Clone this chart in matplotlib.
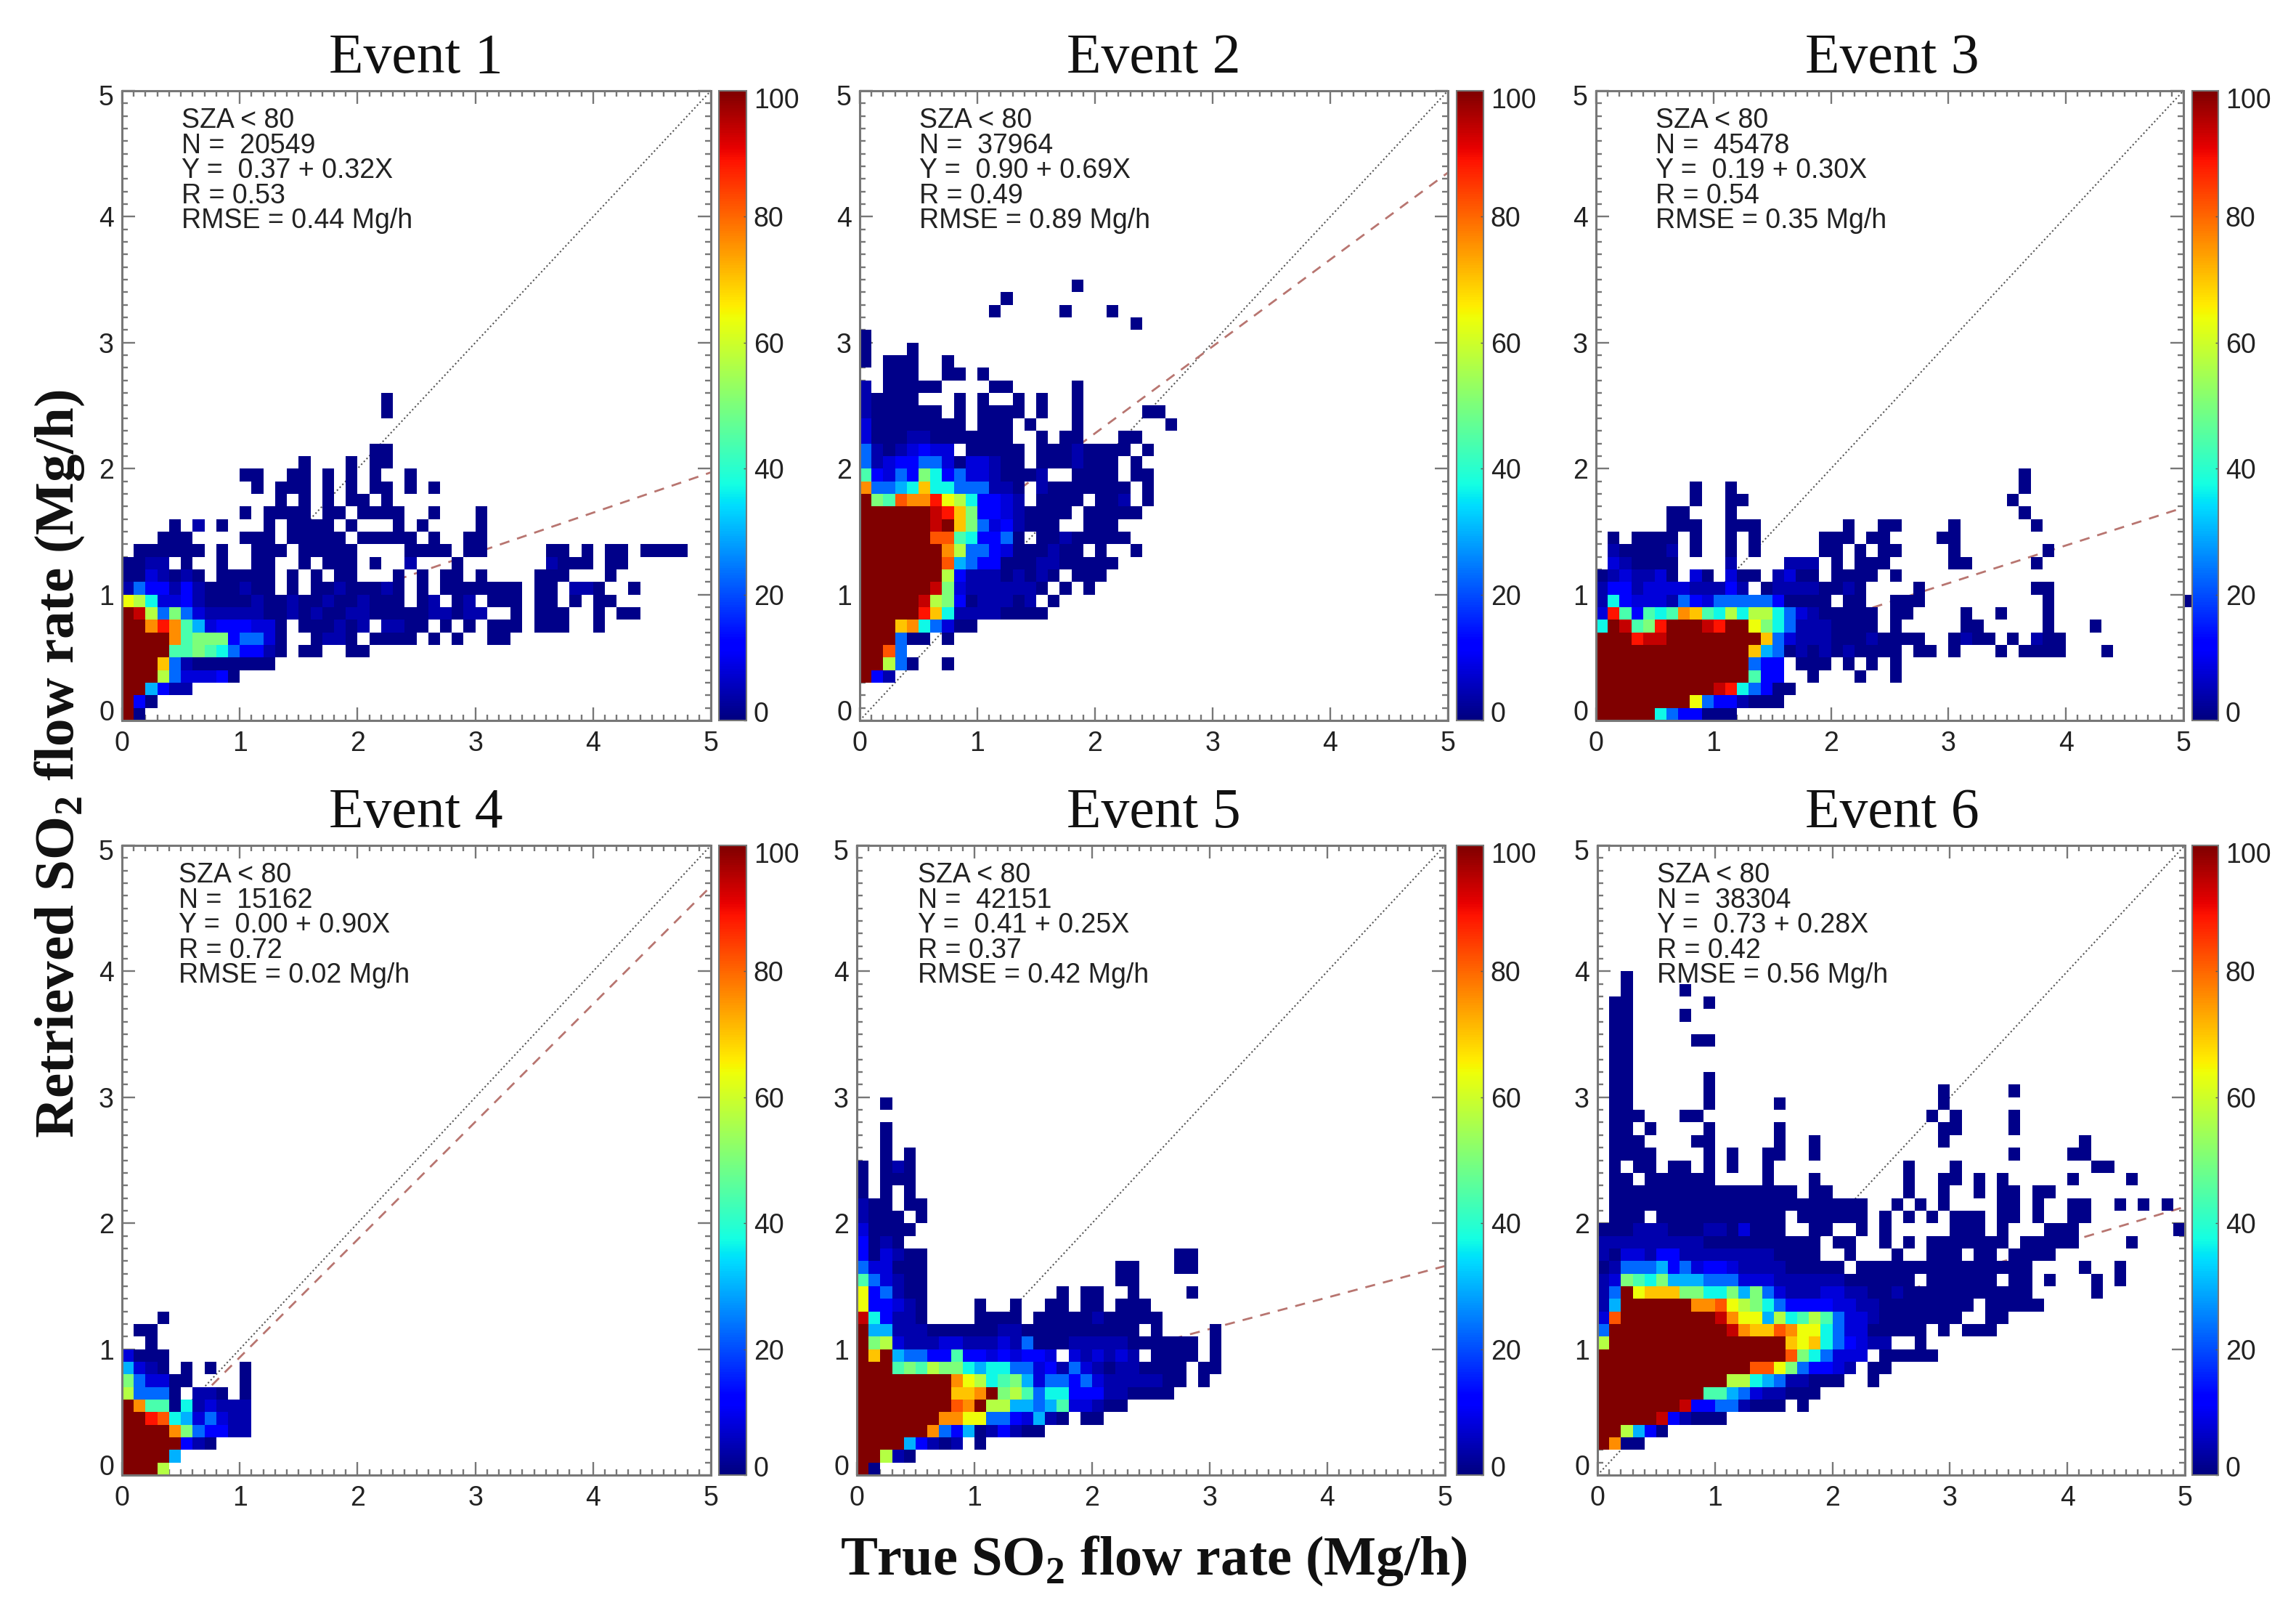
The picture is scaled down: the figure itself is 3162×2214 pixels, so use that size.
import numpy as np
import matplotlib
matplotlib.use("Agg")
import matplotlib.pyplot as plt
from matplotlib.transforms import Affine2D

plt.rcParams['font.family'] = ['Liberation Sans', 'DejaVu Sans']
plt.rcParams['mathtext.fontset'] = 'custom'
plt.rcParams['mathtext.bf'] = 'Liberation Serif:bold'

levels = {'a': 1, 'b': 4, 'c': 8, 'd': 12, 'e': 23, 'f': 30, 'g': 37, 'h': 44, 'i': 50,
          'j': 57, 'k': 64, 'l': 70, 'm': 76, 'n': 82, 'o': 89, 'p': 94, 'X': 100}

# histogram rows, bottom row first, cells are 0.1 Mg/h wide, '.' = empty
event1 = [
    "Xa", "Xda", "XXfdbb", "XXXjecccda", "XXXlebaaaaaaa", "XXXXhhihgeddba.aa..aa",
    "XXXXmhiiideeca..abba.aaaa.a.a..aa",
    "XXmomhfcdddcca.aaabab.bbaa.a.a.aaa.aaa..a",
    "Xpjeiecbbbbbaababaabbaaaaabbabb..a.aaa..a.aa",
    "kjgccdbaaaabaabaabaabaaa.ab.ab.aaa.aa.a.aa",
    "beddbdbaaabaa.a.aabaaaba.a.aaaaaaa.aa.bba..a",
    "aacbaba.aaaaa.a.a.aa...a.a.aa.a....aaa...a",
    "aabb.a..a..aa..a.aaa.a..b...a.......baaa.aa",
    ".aaaaaa.a..aaa.aaaaa....aaaa.aa.....aa.a.aa.aaaa",
    "...aaa....aaa.aaaaa.aaaaa.a..aa",
    "....a.b.a...a.aaaa.a...a.a....a",
    "..........a.aaaa.aa.aaaa..a...a",
    ".............a.a.a.aa.a",
    "...........a.aaa.a.a.aa.a.a",
    "..........aa..aa.a.a.a..a",
    "...............a...a.aa",
    ".....................aa",
    "", "",
    "......................a",
    "......................a",
]
event2 = [
    "", "", "", "Xdb", "XXjea..a", "XXne", "XXXeaa.a", "XXXlmgecaa", "XXXXXolgbbbbaaaa",
    "XXXXXpjidabbbab.a",
    "XXXXXXpicbbbbbba.a.a",
    "XXXXXXXjdbbbababa.aaa",
    "XXXXXXXnfeddaaabbaaaaa",
    "XXXXXXXmjeedcaaabaa.a..a",
    "XXXXXXnnhgddea.aabaaaaa",
    "XXXXXXpXliecdbaaa..aaa",
    "XXXXXXpoliddcbaaaa.aaaaa",
    "Xihnmmokjgddcb.aaaa.aab.a",
    "meefglggeeebba.baaaaaaa.a",
    "hdcedigdeccbaaab..aaaa.aa",
    "ebcddeecaccbaa.aaabaaa.a",
    "ebabcdcc.aaaaa.aaabaaaa.a",
    "caaabbaaaaaaa..a.aa...aa",
    "caaaaaaaa.aaa.a...a.......a",
    "baaaaaa.a.aaaa.a..a.....aa",
    "baaaa...a.a..a.a..a",
    "b.aaaaa....aa.....a",
    "..aaa..aa.a",
    "a.aaa..a",
    "a...a",
    "a",
    ".......................a",
    "...........a.....a...a",
    "............a",
    "..................a",
]
event3 = [
    "XXXXXgeddaaa",
    "XXXXXXXXkeddbaaa",
    "XXXXXXXXXXpogedaa",
    "XXXXXXXXXXXXXhdd..a...a..a",
    "XXXXXXXXXXXXXedd.aaa.a.a.a",
    "XXXXXXXXXXXXXlfeabababaaaa.aa.a...a.aaaa...a",
    "XXXoppXXXXXXXXlecbbbaaabaaaa..abaa.a.baa",
    "gXphioXXXpoXXkigebbbaaaa.a.....aa.....a...a",
    "cohdhghmlhgjgjjgecbaaaaa.aa....a..a...a",
    "bgdcccbedceeeeedaaaa.aa..aaa..........a...........a",
    "bddbccccbbbdb.abbbbaaba....a.........aa",
    "abcbbca.ca.caa.bcaa.aaaa.a",
    ".cbaaaa....b....bbb.a.aaa.....aa.....a",
    ".baaaab.a..a.a.....aa.a.aa....a.......a",
    ".a.aaaa.a..a.a.....aaa.aa....aa",
    "......aaa..aaa.......a..aa....a......a",
    "......aa...a........................a",
    "........a..aa......................a",
    "........a..a........................a",
    "....................................a",
]
event4 = [
    "XXXj", "XXXXf", "XXXXXdba", "XXXXmieddbb", "XXongfcecbb", "Xmhhagbcbbb",
    "jeeea.bba.a", "ieccaa....a", "fcba.a.a..a", "caaa", "..a", ".aa", "...a",
]
event5 = [
    "Xa", "XXjba", "XXXXfdbab.a", "XXXXXXmedfabdbaa", "XXXXXXXmmkkeedcfba.aa",
    "XXXXXXXXnmXjjffefhccbaa",
    "XXXXXXXXllmXijheggdddbbaaaa",
    "XXXXXXXXmkjghifceedecbbbbbaa.a",
    "XXXhihjiigfggeecdbecbabbaaaa.aa",
    "XlXfeeddhddcdcddc.cbcbcb.aaaa.a",
    "Xijcbbbccbbbcbeaaabbbbbaaaaaa.a",
    "Xffbbbaaaaaabbaaaaaaaaaa.a....a",
    "pgdbba....aaaa.aaaaabaaaaa",
    "kddcba....a..a..aa.aa.aaa",
    "kdebaa...........a.aa..a....a",
    "hecbaa................aa",
    "eccaaa................aa...aa",
    "dacbaa.....................aa",
    "daba", "caaaa", "baaa.a", "baa.aa", "a.a.a", "a.aaa", "a.aba",
    "..a.a", "..a", "..a", "", "..a",
]
event6 = [
    "", "", "Xmaa", "XXjfda", "XXXXXpdbaaa", "XXXXXXXpddeebaaa.a",
    "XXXXXXXXXhhfecbbaaa",
    "XXXXXXXXXXXjjgfebbaaa..a",
    "XXXXXXXXXXXXXnnkieddcb.aa",
    "XXXXXXXXXXXXXXXXnigeccc.aaaaa",
    "jXXXXXXXXXXXXXXXlklgedcbb..a",
    "eXXXXXXXXXXpmllnmkkgeccaaaaa.a.aaa",
    "cnXXXXXXXXpmkkfjghjheccbaaaaaaa..aa",
    "bfXXXXXXmmnkjigeddddccbbaaaaaaaa.aaaaa",
    "beXkllliiggifiecbbbccbbaabaaaaaaaaaaa.....a",
    "bcihgifffeeecccbbbbbbaaaaaa.aaaaaa.aa.a...a.a",
    "abeeefdecddcbbbbaaaaa.aaaaaaaaaaaaaaa....a..a",
    "baccbddbbbbbbbbaaaa..a...a..aaa.aa.aaaa",
    "bbbbbbbbbaaaaaaaaaa.aa..a.a.aaaaaaa.aaaaa....a",
    "aaabbbaaabbacaaa..aa..a.a.....aaa.a...aaa........a",
    ".aaa.aaaaaaaaaaa.aaaaaa.a.a.a.aaa.aa.a..aa",
    ".aaaaaaaaaaaaaaaaaaaaaa..a.a.a....aa.a..aa..a.a.a",
    ".aaaaaaaaaaaaaaaa.aa......a..a..a.aa.aa",
    ".aa.aaaaaa....a...a.......a..aa.a.a.....a....a",
    ".a.aa.aa.a.a..a...........a...a...........aa",
    ".aaaa....a.a..aa..a................a....aa",
    ".aaa....aa.....a..a..........a...........a",
    ".aa.a....a.....a.............aa....a",
    ".aaa...aa...................a.a....a",
    ".aa......a.....a.............a",
    ".aa......a...................a.....a",
    ".aa......a",
    ".aa",
    ".aa",
    ".aa.....aa",
    ".aa",
    ".aa....a",
    ".aa......a",
    "..a....a",
    "..a",
]
eventRows = [event1, event2, event3, event4, event5, event6]

titles = ["Event 1", "Event 2", "Event 3", "Event 4", "Event 5", "Event 6"]
counts = [20549, 37964, 45478, 15162, 42151, 38304]
intercepts = [0.37, 0.90, 0.19, 0.00, 0.41, 0.73]
slopes = [0.32, 0.69, 0.30, 0.90, 0.25, 0.28]
corrs = [0.53, 0.49, 0.54, 0.72, 0.37, 0.42]
rmses = [0.44, 0.89, 0.35, 0.02, 0.42, 0.56]
# dashed line of event 4 ends a little above what its label says
lineSlopes = [0.32, 0.69, 0.30, 0.935, 0.25, 0.28]
ticks = [0, 1, 2, 3, 4, 5]
minorTicks = np.arange(0, 5.05, 0.1)
barTicks = [0, 20, 40, 60, 80, 100]

W, H = 3162, 2214
# axes boxes in pixels: left, right, top, bottom, colorbar left, colorbar right
boxes = [
    (168, 979, 125, 992, 990, 1028),
    (1184, 1994, 125, 992, 2006, 2043),
    (2198, 3007, 125, 992, 3019, 3055),
    (168, 979, 1164, 2031, 990, 1028),
    (1180, 1990, 1164, 2031, 2006, 2043),
    (2200, 3009, 1164, 2031, 3019, 3055),
]
textLeft = [82, 82, 82, 78, 84, 82]
titleCenter = [573, 1589, 2606, 573, 1589, 2606]
grey = '#777777'
dark = '#222222'


def toGrid(rows):
    grid = np.full((50, 51), np.nan)
    for j, row in enumerate(rows):
        for i, c in enumerate(row):
            if c != '.':
                grid[j, i] = levels[c]
    return np.ma.masked_invalid(grid)


def box(l, r, t, b):
    return [l / W, 1 - b / H, (r - l) / W, (b - t) / H]


def shiftEnds(labels, lowPx, highPx):
    # end labels sit inside the axis range, nudged in pixels
    labels[0].set_va('bottom')
    labels[0].set_transform(labels[0].get_transform() + Affine2D().translate(0, lowPx))
    labels[-1].set_va('top')
    labels[-1].set_transform(labels[-1].get_transform() + Affine2D().translate(0, highPx))


fig = plt.figure(figsize=(W / 100, H / 100), dpi=100)
cmap = plt.get_cmap('jet').copy()
cmap.set_bad('white', 0)
edges = np.arange(0, 5.15, 0.1)
yEdges = np.arange(0, 5.05, 0.1)

for k in range(6):
    l, r, t, b, cl, cr = boxes[k]
    ax = fig.add_axes(box(l, r, t, b))
    ax.plot([0, 5], [0, 5], ls=(0, (1, 1.6)), color='#555555', lw=1.5, zorder=1)
    ax.plot([0, 5], [intercepts[k], intercepts[k] + lineSlopes[k] * 5],
            ls=(0, (5, 4)), color='#b87570', lw=2.0, zorder=1)
    mesh = ax.pcolormesh(edges, yEdges, toGrid(eventRows[k]), cmap=cmap, vmin=0, vmax=100,
                         zorder=2, clip_on=False)
    ax.set_xlim(0, 5)
    ax.set_ylim(0, 5)
    ax.set_xticks(ticks)
    ax.set_yticks(ticks)
    ax.set_xticks(minorTicks, minor=True)
    ax.set_yticks(minorTicks, minor=True)
    ax.tick_params(which='both', direction='in', top=True, right=True, color=grey, width=1.7)
    ax.tick_params(which='major', length=13, labelsize=27, labelcolor=dark)
    ax.tick_params(which='minor', length=6)
    ax.tick_params(axis='x', which='major', pad=10)
    ax.tick_params(axis='y', which='major', pad=8)
    for s in ax.spines.values():
        s.set_color(grey)
        s.set_linewidth(2.2)
    shiftEnds(ax.get_yticklabels(), -8, 8)

    fig.text(titleCenter[k] / W, 1 - (t - 44) / H, titles[k], ha='center', va='center',
             family='Liberation Serif', fontsize=56, color='#111111')

    lines = ["SZA < 80",
             "N =  %d" % counts[k],
             "Y =  %.2f + %.2fX" % (intercepts[k], slopes[k]),
             "R = %.2f" % corrs[k],
             "RMSE = %.2f Mg/h" % rmses[k]]
    for n, line in enumerate(lines):
        fig.text((l + textLeft[k]) / W, 1 - (t + 41 + n * 34.6) / H, line, ha='left', va='center',
                 fontsize=27, color=dark)

    cax = fig.add_axes(box(cl, cr, t, b))
    cb = fig.colorbar(mesh, cax=cax)
    cb.set_ticks(barTicks)
    cb.outline.set_edgecolor(grey)
    cb.outline.set_linewidth(1.5)
    cax.tick_params(direction='in', length=3, width=1, color='#555555', labelsize=27, labelcolor=dark, pad=7)
    shiftEnds(cax.get_yticklabels(), -10, 4)

fig.text(82 / W, 1 - 1052 / H, r"Retrieved SO$_{\mathbf{2}}$ flow rate (Mg/h)", rotation=90, ha='center', va='center',
         family='Liberation Serif', fontweight='bold', fontsize=55.5, color='#111111')
fig.text(1589 / W, 1 - 2149 / H, r"True SO$_{\mathbf{2}}$ flow rate (Mg/h)", ha='center', va='center',
         family='Liberation Serif', fontweight='bold', fontsize=55, color='#111111')

fig.savefig('out.png', dpi=100, facecolor='white')
